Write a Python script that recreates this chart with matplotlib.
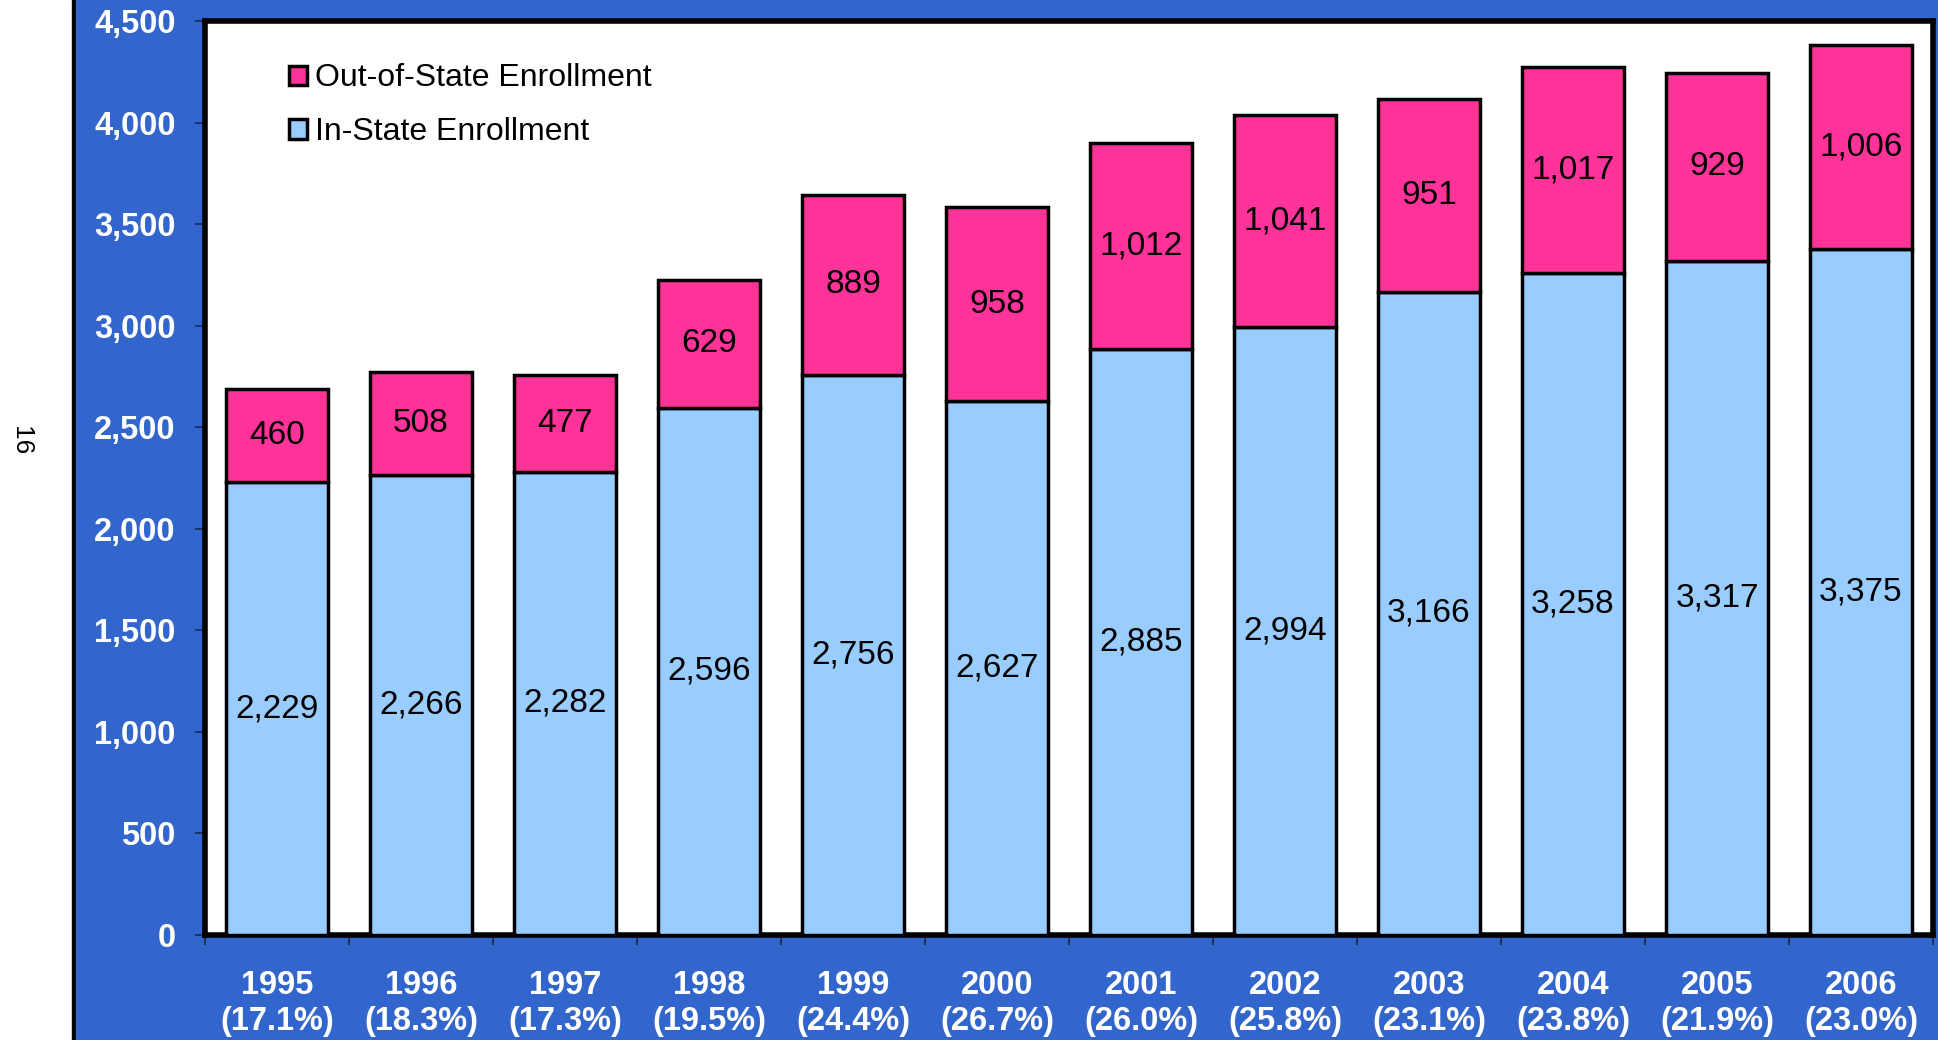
import matplotlib.pyplot as plt
from matplotlib.patches import Rectangle

years = ['1995', '1996', '1997', '1998', '1999', '2000', '2001', '2002', '2003', '2004', '2005', '2006']
pct_out = ['17.1%', '18.3%', '17.3%', '19.5%', '24.4%', '26.7%', '26.0%', '25.8%', '23.1%', '23.8%', '21.9%', '23.0%']
in_state = [2229, 2266, 2282, 2596, 2756, 2627, 2885, 2994, 3166, 3258, 3317, 3375]
out_state = [460, 508, 477, 629, 889, 958, 1012, 1041, 951, 1017, 929, 1006]

plt.rcParams['font.family'] = ['Liberation Sans', 'DejaVu Sans']

fig = plt.figure(figsize=(19.38, 10.40), dpi=100)
fig.patch.set_facecolor('white')

# blue panel with black left edge
fig.patches.append(Rectangle((72 / 1938, 0), 4 / 1938, 1, transform=fig.transFigure, color='black', zorder=-10))
fig.patches.append(Rectangle((76 / 1938, 0), 1 - 76 / 1938, 1, transform=fig.transFigure, color='#3366CC', zorder=-10))
fig.text(21 / 1938, 1 - 441 / 1040, '16', rotation=270, fontsize=19, ha='center', va='center')

ax = fig.add_axes([205 / 1938, 105 / 1040, 1728 / 1938, 914 / 1040])
ax.set_facecolor('white')

x = range(len(years))
b1 = ax.bar(x, in_state, width=0.71, color='#99CCFF', edgecolor='black', linewidth=2.5,
            label='In-State Enrollment', zorder=3)
b2 = ax.bar(x, out_state, width=0.71, bottom=in_state, color='#FF3399', edgecolor='black',
            linewidth=2.5, label='Out-of-State Enrollment', zorder=3)

for i in x:
    ax.text(i, in_state[i] / 2, f'{in_state[i]:,}', ha='center', va='center', fontsize=24, zorder=4)
    ax.text(i, in_state[i] + out_state[i] / 2, f'{out_state[i]:,}', ha='center', va='center',
            fontsize=24, zorder=4)

ax.set_xlim(-0.5, len(years) - 0.5)
ax.set_ylim(0, 4500)
ax.set_yticks(range(0, 4501, 500))
ax.set_yticklabels([f'{v:,}' for v in range(0, 4501, 500)], fontsize=23.5, fontweight='bold', color='white')
ax.set_xticks(list(x))
ax.set_xticklabels([f'{y}\n({p})' for y, p in zip(years, pct_out)], fontsize=23.5,
                   fontweight='bold', color='white', linespacing=1.2)
ax.set_xticks([i + 0.5 for i in range(-1, len(years))], minor=True)
ax.tick_params(axis='x', which='major', length=0, pad=25)
ax.tick_params(axis='x', which='minor', length=7, width=1.2, color='#1a2a55', direction='out')
ax.tick_params(axis='y', length=7, width=1.2, color='#1a2a55', pad=14)

for s in ax.spines.values():
    s.set_linewidth(4)
    s.set_color('black')

handles = [b2, b1]
ax.legend(handles, [h.get_label() for h in handles], loc='upper left', bbox_to_anchor=(0.032, 0.985),
          frameon=False, fontsize=23, handlelength=0.55, handleheight=0.55, handletextpad=0.25,
          labelspacing=0.75)

fig.savefig('out.png', dpi=100, facecolor=fig.get_facecolor())
